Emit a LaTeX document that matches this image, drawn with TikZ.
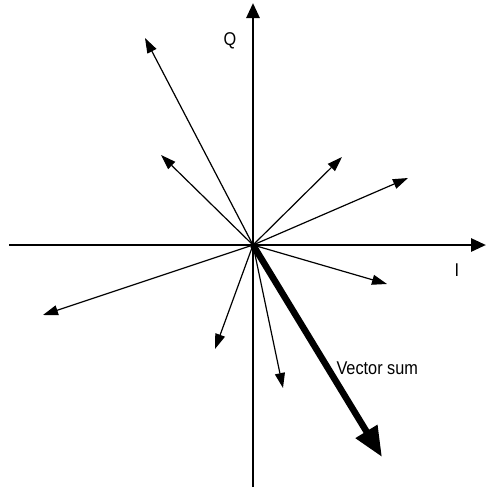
\documentclass[tikz,border=0pt]{standalone}
\usepackage{fontspec}
\setmainfont{Liberation Sans}[FakeStretch=0.88]
\usetikzlibrary{arrows.meta}

\begin{document}
\begin{tikzpicture}[
    x=1pt, y=-1pt,
    axis/.style={-{Triangle[length=15pt,width=13pt]}, line width=2.8pt},
    vec/.style={-{Triangle[length=15pt,width=10pt]}, line width=1.2pt},
    sumvec/.style={-{Triangle[length=30pt,width=24pt]}, line width=6.5pt},
    lbl/.style={font=\fontsize{18.5}{21}\selectfont}
]
    \useasboundingbox (0,0) rectangle (486,491);

    % Nodes
    \coordinate (o) at (253,245);
    \coordinate (iL) at (9,245);
    \coordinate (iR) at (486,245);
    \coordinate (qB) at (253,487);
    \coordinate (qT) at (253,3);
    \node[lbl] (qlab) at (230,41) {Q};
    \node[lbl] (ilab) at (457,270) {I};
    \node[lbl, anchor=west] (sumlab) at (333,368) {Vector sum};

    \coordinate (v1) at (145,38);
    \coordinate (v2) at (161,155);
    \coordinate (v3) at (342,157);
    \coordinate (v4) at (408,178);
    \coordinate (v5) at (387,284);
    \coordinate (v6) at (43,315);
    \coordinate (v7) at (215,349);
    \coordinate (v8) at (283,388);
    \coordinate (vs) at (382,457);

    % Connections
    \draw[axis] (iL) -- (iR);
    \draw[axis] (qB) -- (qT);
    \foreach \v in {v1,v2,v3,v4,v5,v6,v7,v8}
        \draw[vec] (o) -- (\v);
    \draw[sumvec] (o) -- (vs);

\end{tikzpicture}
\end{document}
